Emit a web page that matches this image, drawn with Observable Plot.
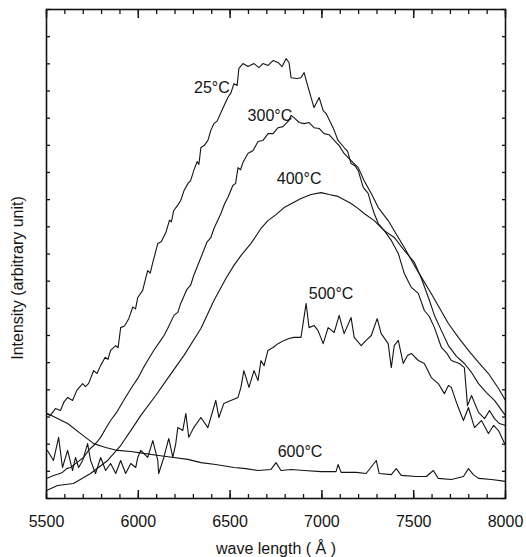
<!DOCTYPE html>
<html><head><meta charset="utf-8">
<script src="https://cdn.jsdelivr.net/npm/d3@7"></script>
<script src="https://cdn.jsdelivr.net/npm/@observablehq/plot@0.6"></script>
<style>body{margin:0;background:#fff}</style>
</head><body><div id="chart"></div>
<script>
// wavelength (Å), intensity (arbitrary unit)
const spectrum25C = [[5500,31.3],[5520,30.5],[5549,33.1],[5576,32.4],[5595,35.5],[5615,37.2],[5642,36.1],[5665,39.8],[5697,42.3],[5712,41.2],[5729,42.3],[5757,47.1],[5775,46.0],[5795,49.0],[5820,52.0],[5835,51.2],[5849,54.5],[5877,56.3],[5890,55.5],[5904,62.9],[5925,63.5],[5948,66.2],[5970,70.5],[5985,69.8],[5997,74.0],[6024,76.6],[6038,80.5],[6051,83.9],[6065,83.0],[6079,86.9],[6095,91.0],[6106,93.9],[6125,94.5],[6150,97.9],[6170,102.5],[6180,101.8],[6193,106.0],[6215,108.0],[6231,109.7],[6250,113.5],[6270,115.9],[6285,117.0],[6302,120.7],[6320,124.0],[6330,123.0],[6341,129.2],[6360,130.0],[6379,131.8],[6395,135.5],[6412,138.0],[6430,139.0],[6450,142.1],[6470,145.0],[6488,147.6],[6505,149.4],[6521,152.7],[6538,152.0],[6548,158.3],[6570,160.1],[6597,159.0],[6630,160.1],[6657,158.6],[6679,160.1],[6707,159.4],[6734,161.2],[6761,160.5],[6783,159.0],[6805,161.9],[6821,160.5],[6832,154.9],[6865,154.6],[6886,154.9],[6903,156.8],[6925,151.3],[6957,143.9],[6985,147.6],[7007,142.8],[7023,141.7],[7061,136.5],[7088,131.8],[7121,129.2],[7140,127.8],[7159,123.3],[7180,122.5],[7198,120.7],[7225,114.5],[7252,112.3],[7270,108.0],[7285,104.9],[7307,101.2],[7340,98.6],[7378,95.0],[7416,90.2],[7449,82.8],[7487,77.7],[7525,75.5],[7558,69.2],[7585,67.0],[7613,62.9],[7651,55.6],[7680,53.5],[7705,50.8],[7749,49.7],[7776,48.2],[7793,34.2],[7815,37.9],[7853,31.7],[7886,29.4],[7913,32.4],[7940,29.4],[7967,27.6],[8000,26.9]];
const spectrum300C = [[5500,7.4],[5538,8.5],[5560,8.9],[5587,9.6],[5610,11.0],[5631,11.4],[5665,13.2],[5702,15.1],[5730,17.8],[5757,19.5],[5775,20.8],[5795,22.5],[5820,25.5],[5849,28.7],[5885,32.0],[5920,36.1],[5960,40.5],[5997,44.2],[6025,47.8],[6051,50.8],[6084,54.5],[6120,58.0],[6140,60.0],[6160,62.6],[6195,67.5],[6215,68.5],[6231,71.8],[6265,77.0],[6285,78.5],[6302,82.1],[6341,88.7],[6375,94.5],[6395,96.0],[6412,99.4],[6450,104.9],[6470,108.5],[6488,110.8],[6515,115.2],[6530,116.0],[6543,121.8],[6557,121.0],[6570,123.7],[6597,127.0],[6625,128.1],[6652,131.4],[6679,131.8],[6707,134.3],[6734,134.3],[6761,136.5],[6788,136.9],[6816,138.8],[6832,141.0],[6848,140.2],[6876,138.4],[6903,138.0],[6930,138.4],[6957,136.5],[6985,136.2],[7012,134.3],[7039,133.9],[7067,131.8],[7094,129.9],[7121,127.0],[7159,124.4],[7198,121.8],[7230,117.0],[7269,112.3],[7307,107.1],[7361,102.3],[7416,96.1],[7449,92.4],[7504,85.8],[7553,80.2],[7596,75.4],[7689,64.4],[7743,59.3],[7798,54.5],[7853,50.1],[7907,46.0],[7962,40.5],[8000,36.1]];
const spectrum400C = [[5500,2.9],[5560,4.8],[5647,5.5],[5740,9.2],[5833,14.0],[5904,19.5],[5959,25.0],[6013,30.5],[6095,37.9],[6160,44.2],[6248,52.6],[6341,62.6],[6412,72.9],[6477,81.0],[6521,85.8],[6559,89.4],[6614,93.9],[6668,99.4],[6706,102.3],[6750,104.5],[6794,107.1],[6843,108.9],[6886,110.4],[6941,111.9],[6996,112.6],[7039,111.9],[7088,111.2],[7121,110.0],[7159,108.6],[7198,106.7],[7230,104.9],[7285,102.3],[7340,98.6],[7394,96.1],[7449,91.3],[7504,86.9],[7542,81.0],[7580,74.0],[7613,67.4],[7651,61.8],[7689,56.3],[7733,52.3],[7776,49.7],[7815,46.4],[7853,42.3],[7896,39.0],[7940,36.1],[8000,30.5]];
const spectrum500C = [[5505,17.7],[5538,14.0],[5566,22.5],[5587,11.4],[5615,17.7],[5642,10.3],[5658,15.1],[5675,11.4],[5697,14.0],[5724,20.2],[5740,14.0],[5767,9.2],[5795,15.1],[5822,10.3],[5849,12.9],[5877,9.2],[5904,14.0],[5931,9.2],[5959,12.9],[5986,11.4],[5997,15.1],[6013,17.7],[6051,15.1],[6079,21.3],[6106,14.0],[6111,9.2],[6139,15.1],[6166,22.1],[6188,15.1],[6204,20.2],[6215,26.1],[6242,25.0],[6259,31.3],[6275,22.5],[6302,26.1],[6341,29.8],[6379,26.1],[6406,32.4],[6422,36.1],[6439,29.8],[6466,35.0],[6504,36.1],[6543,37.2],[6559,40.9],[6575,47.1],[6603,40.9],[6630,47.1],[6652,43.4],[6668,50.8],[6685,48.9],[6706,54.5],[6734,55.6],[6761,57.0],[6794,58.2],[6821,58.9],[6848,59.3],[6886,59.3],[6914,71.8],[6930,62.9],[6957,63.7],[6979,61.8],[7007,57.0],[7034,62.9],[7067,61.1],[7094,67.4],[7121,60.7],[7159,66.6],[7176,59.3],[7214,56.3],[7241,58.2],[7269,60.0],[7301,66.2],[7323,60.7],[7361,57.0],[7378,48.2],[7394,56.3],[7416,58.2],[7443,49.7],[7466,52.6],[7487,53.4],[7525,50.8],[7558,49.7],[7596,44.5],[7634,42.3],[7667,38.6],[7689,41.6],[7705,40.9],[7733,35.3],[7743,33.5],[7771,28.7],[7798,33.5],[7831,26.1],[7869,28.7],[7907,23.9],[7935,26.9],[7962,25.0],[8000,19.5]];
const spectrum600C = [[5505,31.3],[5549,29.8],[5615,27.6],[5686,23.9],[5757,20.2],[5822,18.8],[5888,17.7],[5959,17.3],[6029,16.6],[6111,15.8],[6193,15.1],[6270,14.4],[6341,13.2],[6422,12.5],[6521,11.4],[6586,11.0],[6652,10.3],[6723,10.7],[6750,13.2],[6777,10.3],[6832,10.7],[6903,10.3],[6996,9.9],[7077,9.9],[7088,12.5],[7105,9.6],[7187,9.6],[7241,9.2],[7296,14.0],[7312,9.2],[7378,8.8],[7405,11.0],[7432,8.5],[7514,8.1],[7569,8.1],[7607,10.3],[7634,7.4],[7705,7.0],[7771,8.1],[7798,11.0],[7825,8.8],[7853,7.4],[7924,7.0],[8000,6.3]];

const seriesNames = ["25°C", "300°C", "400°C", "500°C", "600°C"];
const seriesData = [spectrum25C, spectrum300C, spectrum400C, spectrum500C, spectrum600C];

const labelText = ["25°C", "300°C", "400°C", "500°C", "600°C"];
const labelWave = [6401, 6717, 6876, 7050, 6881];
const labelIntensity = [151.3, 141.0, 117.8, 75.4, 17.3];

const xMajorTicks = [5500, 6000, 6500, 7000, 7500, 8000];
const xMinorTicks = d3.range(5500, 8001, 100);
const yTicks = d3.range(0, 181, 10);

const xTitle = "wave length ( Å )";
const yTitle = "Intensity (arbitrary unit)";

const rows = seriesData.flatMap((s, k) => s.map(([w, v]) => ({series: seriesNames[k], w, v})));

const ink = "#141414";
const chart = Plot.plot({
  width: 526,
  height: 557,
  marginTop: 9,
  marginRight: 21,
  marginBottom: 59,
  marginLeft: 46,
  x: {domain: [5500, 8000]},
  y: {domain: [0, 180]},
  style: {fontFamily: "'Liberation Sans', Arial, sans-serif", background: "#fff", color: ink},
  marks: [
    Plot.axisX(xMinorTicks, {anchor: "bottom", tickSize: -4, tickFormat: () => "", label: null, strokeWidth: 1.3}),
    Plot.axisX(xMajorTicks, {anchor: "bottom", tickSize: -8, tickFormat: () => "", label: null, strokeWidth: 1.5}),
    Plot.axisX(xMinorTicks, {anchor: "top", tickSize: -4, tickFormat: () => "", label: null, strokeWidth: 1.3}),
    Plot.axisX(xMajorTicks, {anchor: "top", tickSize: -8, tickFormat: () => "", label: null, strokeWidth: 1.5}),
    Plot.axisX(xMajorTicks, {anchor: "bottom", tickSize: 0, tickPadding: 17, tickFormat: d => String(d), label: null, fontSize: 16}),
    Plot.axisY(yTicks, {anchor: "left", tickSize: -4, tickFormat: () => "", label: null, strokeWidth: 1.3}),
    Plot.axisY(yTicks, {anchor: "right", tickSize: -4, tickFormat: () => "", label: null, strokeWidth: 1.3}),
    Plot.frame({stroke: ink, strokeWidth: 1.6}),
    Plot.lineY(rows, {x: "w", y: "v", z: "series", stroke: ink, strokeWidth: 1.1}),
    Plot.text(labelText, {x: labelWave, y: labelIntensity, text: d => d, fontSize: 16, fill: ink, textAnchor: "middle", lineAnchor: "middle"}),
    Plot.text([xTitle], {frameAnchor: "bottom", dy: 50, text: d => d, fontSize: 16, fill: ink, textAnchor: "middle", lineAnchor: "middle"}),
    Plot.text([yTitle], {frameAnchor: "left", dx: -29, dy: 24, rotate: -90, text: d => d, fontSize: 16, fill: ink, textAnchor: "middle", lineAnchor: "middle"})
  ]
});
document.getElementById("chart").appendChild(chart);
</script>
</body></html>
